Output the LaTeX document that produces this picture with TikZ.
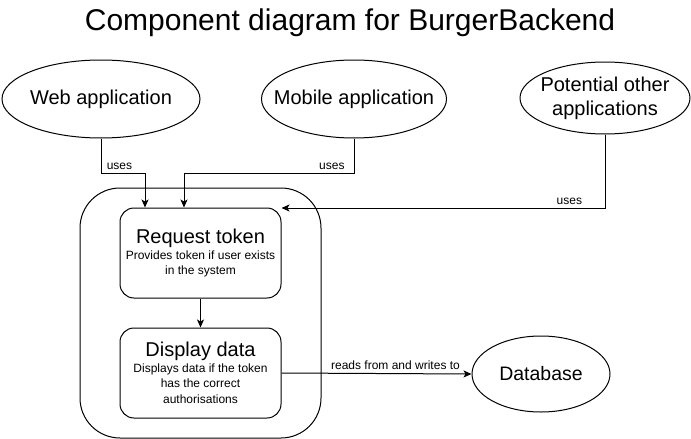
\documentclass[tikz,border=0pt]{standalone}
\usepackage{fontspec}
\setmainfont{Liberation Sans}
\usetikzlibrary{shapes.geometric,arrows.meta}
\begin{document}
\begin{tikzpicture}[x=1pt,y=-1pt,line width=1pt,
  ell/.style={draw,ellipse,inner xsep=-40pt,inner ysep=-15pt,font=\fontsize{20}{24}\selectfont,align=center},
  comp/.style={draw,rounded corners=14pt,minimum width=161pt,minimum height=90pt,inner sep=0pt,align=center,font=\fontsize{12}{15.5}\selectfont},
  ctitle/.style={font=\fontsize{20}{24}\selectfont},
  arr/.style={-{Stealth[length=8pt,width=7pt,inset=2pt]}},
  lbl/.style={font=\fontsize{12}{14}\selectfont}]
\useasboundingbox (0,0) rectangle (691,439);
\node[font=\fontsize{30}{34}\selectfont] (title) at (350,23) {Component diagram for BurgerBackend};
\node[ell,minimum width=198pt,minimum height=78pt] (web) at (101,99) {Web application};
\node[ell,minimum width=185pt,minimum height=78pt] (mob) at (354,99) {Mobile application};
\node[ell,minimum width=170pt,minimum height=72pt] (pot) at (605,98) {Potential other\\applications};
\node[ell,minimum width=138pt,minimum height=76pt,font=\fontsize{19.5}{24}\selectfont] (db) at (541,374) {Database};
\node[draw,rounded corners=40pt,minimum width=241pt,minimum height=250pt] (outer) at (200.5,313) {};
\node[comp] (req) at (200.5,253) {{\fontsize{20}{24}\selectfont Request token}\\Provides token if user exists\\in the system};
\node[comp] (disp) at (200.5,373) {{\fontsize{20}{24}\selectfont Display data}\\Displays data if the token\\has the correct\\authorisations};
\coordinate (w1) at (101,173);
\coordinate (m1) at (354,173);
\coordinate (p1) at (605,208);
\draw[arr] (web.south) -- (w1) -| (req.north -| 145,0) node[lbl,pos=0.21,above] {uses};
\draw[arr] (mob.south) -- (m1) -| (req.north -| 184,0) node[lbl,pos=0.065,above] {uses};
\draw[arr] (pot.south) -- (p1) -- (req.north east |- p1) node[lbl,pos=0.11,above] {uses};
\draw[arr] (req.south) -- (disp.north);
\draw[arr] (disp.east) -- (db.west) node[lbl,pos=0.6,above] {reads from and writes to};
\end{tikzpicture}
\end{document}
